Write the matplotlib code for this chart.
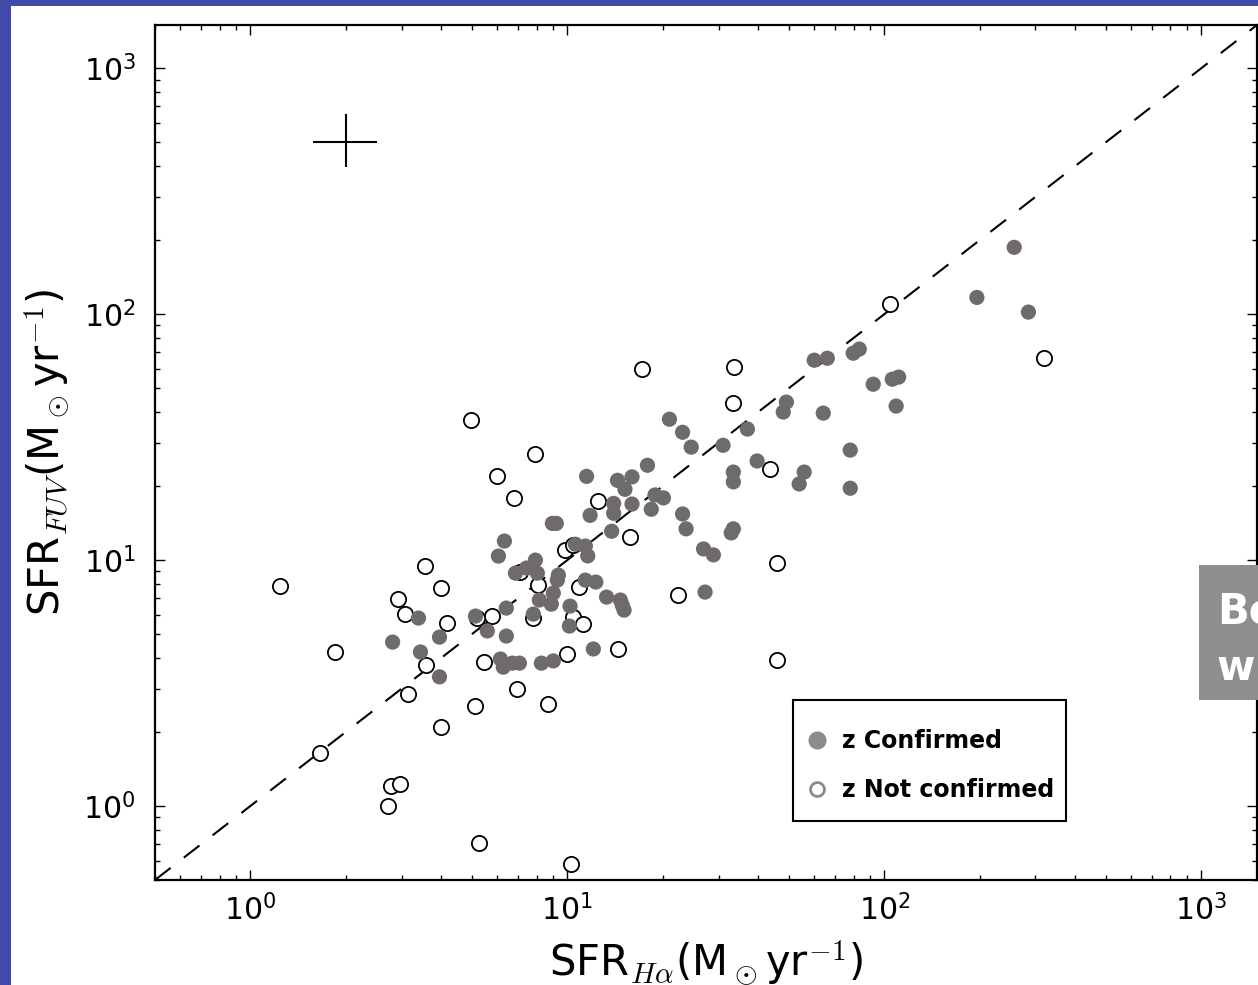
import matplotlib
matplotlib.use('Agg')
import matplotlib.pyplot as plt
from matplotlib.patches import Rectangle
from matplotlib.lines import Line2D

plt.rcParams['mathtext.fontset'] = 'cm'
plt.rcParams['font.family'] = ['DejaVu Sans']

# ---------------- data ----------------
# z confirmed (filled)
conf_sfr_ha = [2.81, 3.39, 3.95, 3.44, 3.95, 5.13, 5.59, 6.42, 6.15, 6.28,
               6.71, 7.06, 8.28, 9.03, 10.15, 12.08, 6.42, 7.81, 6.33, 6.06,
               6.86, 7.43, 7.93, 8.04, 8.97, 9.23, 9.37, 9.30, 9.03, 8.16,
               8.90, 10.2, 10.6, 11.4, 11.6, 11.4, 12.3, 13.3, 14.7, 14.9,
               15.1, 11.5, 14.4, 16.0, 15.2, 14.0, 16.0, 14.0, 11.8, 13.8,
               17.9, 18.9, 20.1, 18.4, 23.1, 21.0, 23.1, 24.6, 31.0, 37.0,
               49.1, 48.0, 39.7, 33.4, 33.4, 23.7, 33.4, 32.9, 26.9, 28.9,
               27.2, 55.9, 53.9, 64.2, 78.1, 78.1, 60.1, 66.1, 79.8, 83.4,
               92.3, 106, 111, 109, 196, 257, 285]
conf_sfr_fuv = [4.64, 5.81, 4.86, 4.23, 3.35, 5.92, 5.15, 4.91, 3.96, 3.67,
                3.81, 3.81, 3.81, 3.89, 5.39, 4.35, 6.38, 6.03, 11.95, 10.38,
                8.85, 9.28, 10.0, 8.85, 14.1, 14.1, 8.69, 8.29, 7.34, 6.88,
                6.62, 6.50, 11.6, 11.4, 10.4, 8.29, 8.14, 7.07, 6.88, 6.56,
                6.26, 21.9, 21.1, 21.8, 19.4, 17.0, 16.9, 15.5, 15.2, 13.1,
                24.3, 18.4, 17.9, 16.1, 15.4, 37.4, 33.1, 28.8, 29.3, 34.1,
                43.9, 40.0, 25.3, 22.8, 20.8, 13.4, 13.4, 12.9, 11.1, 10.5,
                7.41, 22.8, 20.4, 39.6, 28.0, 19.6, 65.0, 66.2, 69.4, 72.1,
                51.9, 54.4, 55.5, 42.3, 117, 187, 102]

# z not confirmed (open)
nc_sfr_ha = [1.24, 1.85, 1.66, 2.71, 2.78, 2.97, 3.15, 2.93, 3.08, 3.56,
             3.59, 4.00, 4.18, 4.00, 4.98, 5.13, 5.28, 5.47, 5.80, 6.01,
             6.80, 6.95, 7.93, 12.5, 15.8, 9.86, 10.4, 8.10, 10.9, 22.4,
             45.9, 5.20, 8.71, 7.81, 10.4, 11.2, 10.0, 14.5, 46.0, 10.3,
             17.2, 33.6, 33.4, 43.7, 104.5, 320, 7.11]
nc_sfr_fuv = [7.84, 4.23, 1.64, 1.00, 1.21, 1.23, 2.85, 6.94, 6.03, 9.45,
              3.74, 7.70, 5.55, 2.10, 37.1, 2.55, 0.71, 3.85, 5.92, 21.9,
              17.9, 2.99, 27.0, 17.4, 12.4, 11.0, 11.5, 7.90, 7.77, 7.20,
              9.72, 5.81, 2.60, 5.81, 5.87, 5.50, 4.15, 4.35, 3.92, 0.58,
              59.8, 60.9, 43.5, 23.4, 110, 66.2, 8.94]

# typical error bar
err_x, err_y = 2.0, 500.0
err_x_lo, err_x_hi = 0.42, 0.51
err_y_lo, err_y_hi = 104.0, 150.0

one_to_one = [0.5, 1500]
axis_lim = (0.5, 1500)
legend_labels = ['z Confirmed', 'z Not confirmed']
side_text = ['Bo', 'wi']

# ---------------- figure ----------------
W, H = 1258, 985
AX_L, AX_B, AX_W, AX_H = 155, 105, 1102, 855   # pixels (bottom-up)
fig = plt.figure(figsize=(W / 100, H / 100), dpi=100)
fig.patch.set_facecolor('#4349a8')
fig.patches.append(Rectangle((11 / W, 0), 1 - 11 / W, 1 - 6 / H,
                             transform=fig.transFigure, facecolor='white',
                             edgecolor='none', zorder=-5))

ax = fig.add_axes([AX_L / W, AX_B / H, AX_W / W, AX_H / H])
ax.set_zorder(1)
ax.set_xscale('log')
ax.set_yscale('log')
ax.set_xlim(*axis_lim)
ax.set_ylim(*axis_lim)

ax.plot(one_to_one, one_to_one, color='black', lw=1.5, ls=(0, (9.5, 8)), zorder=2)

ax.scatter(nc_sfr_ha, nc_sfr_fuv, s=120, facecolor='white', edgecolor='black',
           linewidth=1.3, zorder=3)
ax.scatter(conf_sfr_ha, conf_sfr_fuv, s=120, facecolor='#6f6b6b',
           edgecolor='none', zorder=4)

ax.errorbar([err_x], [err_y], xerr=[[err_x_lo], [err_x_hi]],
            yerr=[[err_y_lo], [err_y_hi]], fmt='none', ecolor='black',
            elinewidth=1.5, capsize=0, zorder=5)

for s in ax.spines.values():
    s.set_linewidth(1.6)

ax.tick_params(which='both', direction='in', top=True, right=True)
ax.tick_params(which='major', length=7, width=1.0, labelsize=21.5)
ax.tick_params(which='minor', length=3.5, width=1.0)
ax.tick_params(axis='x', which='major', pad=10)
ax.tick_params(axis='y', which='major', pad=14)

ax.set_xlabel(r'SFR$_{H\alpha}$(M$_\odot$yr$^{-1}$)', fontsize=30, labelpad=9)
ax.set_ylabel(r'SFR$_{FUV}$(M$_\odot$yr$^{-1}$)', fontsize=30, labelpad=9)

# legend: frame drawn as an explicit box, entries placed inside it
def ax_frac(px, py_from_top):
    return ((px - AX_L) / AX_W, (H - py_from_top - AX_B) / AX_H)

bx0, by0 = ax_frac(793, 821)
bx1, by1 = ax_frac(1066, 700)
ax.add_patch(Rectangle((bx0, by0), bx1 - bx0, by1 - by0, transform=ax.transAxes,
                       facecolor='white', edgecolor='black', linewidth=1.5,
                       zorder=9))
handles = [
    Line2D([], [], ls='none', marker='o', markersize=12,
           markerfacecolor='#8c8c8c', markeredgecolor='#8c8c8c'),
    Line2D([], [], ls='none', marker='o', markersize=10,
           markerfacecolor='white', markeredgecolor='#8c8c8c', markeredgewidth=2),
]
leg = ax.legend(handles, legend_labels, loc='upper left',
                bbox_to_anchor=ax_frac(814, 729), borderaxespad=0,
                prop={'family': 'DejaVu Sans', 'weight': 'bold', 'size': 17},
                frameon=False, handlelength=0.25, handletextpad=0.95,
                borderpad=0, labelspacing=1.06)
leg.set_zorder(10)

# grey box at the right edge
fig.patches.append(Rectangle((1199 / W, 1 - 700 / H), 80 / W, 135 / H,
                             transform=fig.transFigure, facecolor='#8e8e8e',
                             edgecolor='none', zorder=20))
fig.text(1217 / W, 1 - 624 / H, side_text[0], color='white', fontsize=30,
         fontweight='bold', zorder=21)
fig.text(1217 / W, 1 - 680 / H, side_text[1], color='white', fontsize=30,
         fontweight='bold', zorder=21)

fig.savefig('out.png', dpi=100, facecolor=fig.get_facecolor())
